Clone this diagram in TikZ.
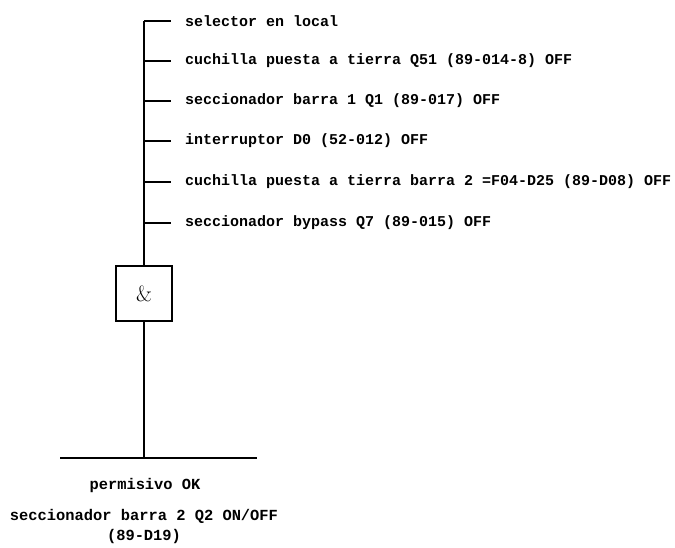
\documentclass[tikz,border=0pt]{standalone}
\usepackage{fontspec}
\setmonofont{Liberation Mono}
\begin{document}
\begin{tikzpicture}[x=1pt,y=-1pt,
  wire/.style={line width=1.4pt,black},
  lbl/.style={anchor=west,inner sep=0pt,font=\fontsize{15}{17}\selectfont\ttfamily\bfseries},
  blbl/.style={inner sep=0pt,font=\fontsize{15.4}{17}\selectfont\ttfamily\bfseries},
  gatebox/.style={draw,line width=1.2pt,minimum width=56pt,minimum height=55pt,inner sep=0pt,font=\fontsize{22}{24}\selectfont}]
\useasboundingbox[fill=white] (0,0) rectangle (675,548);
% junctions on trunk
\coordinate (j1) at (144,21);
\coordinate (j2) at (144,61);
\coordinate (j3) at (144,101);
\coordinate (j4) at (144,141);
\coordinate (j5) at (144,182);
\coordinate (j6) at (144,223);
% labels
\node[lbl] (t1) at (185,21) {selector en local};
\node[lbl] (t2) at (185,61) {cuchilla puesta a tierra Q51 (89-014-8) OFF};
\node[lbl] (t3) at (185,101) {seccionador barra 1 Q1 (89-017) OFF};
\node[lbl] (t4) at (185,141) {interruptor D0 (52-012) OFF};
\node[lbl] (t5) at (185,182) {cuchilla puesta a tierra barra 2 =F04-D25 (89-D08) OFF};
\node[lbl] (t6) at (185,223) {seccionador bypass Q7 (89-015) OFF};
% gate
\node[gatebox] (g) at (144,293.5) {\&};
% bus
\coordinate (bus) at (144,458);
\coordinate (busl) at (60,458);
\coordinate (busr) at (257,458);
% bottom labels
\node[blbl] (b1) at (145,486) {permisivo OK};
\node[blbl] (b2) at (144,516) {seccionador barra 2 Q2 ON/OFF};
\node[blbl] (b3) at (144,537) {(89-D19)};
% wires
\draw[wire] (j1) -- (g.north);
\foreach \i in {1,...,6}{
  \draw[wire] (j\i) -- ([xshift=-14pt]t\i.west);
}
\draw[wire] (g.south) -- (bus);
\draw[wire] (busl) -- (busr);
\end{tikzpicture}
\end{document}
